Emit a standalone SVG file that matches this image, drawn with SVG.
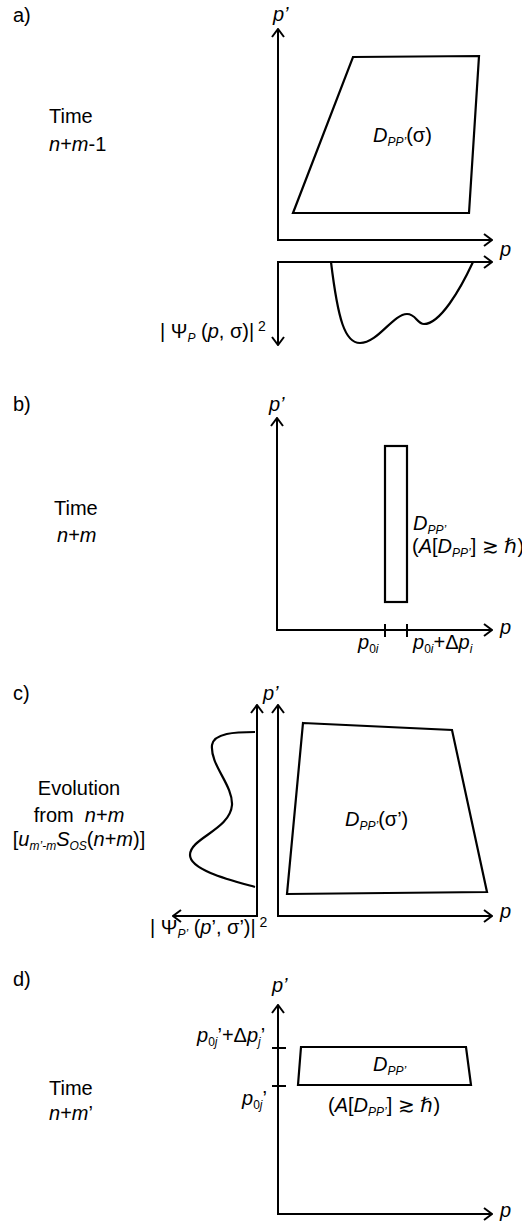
<svg xmlns="http://www.w3.org/2000/svg" width="522" height="1224" viewBox="0 0 522 1224">
<style>
text{font-family:"Liberation Sans",Arial,sans-serif;font-size:20px;fill:#000}
.i{font-style:italic}
.s{font-size:12px}
.sup{font-size:14px}
.ax{fill:none;stroke:#000;stroke-width:2;marker-start:url(#ah);marker-end:url(#ah)}
.sh{fill:none;stroke:#000;stroke-width:2.2;stroke-linejoin:miter}
.tk{stroke:#000;stroke-width:2}
</style>
<defs>
<marker id="ah" viewBox="0 0 10 14" refX="9" refY="7" markerWidth="10" markerHeight="14" markerUnits="userSpaceOnUse" orient="auto-start-reverse">
<path d="M1,1 L9,7 L1,13" fill="none" stroke="#000" stroke-width="2"/>
</marker>
</defs>
<rect width="522" height="1224" fill="#fff"/>

<g id="connectors">
<path class="ax" d="M278,29 L278,240 L492,240"/>
<path class="ax" d="M278,345 L278,262 L492,262"/>
<path class="ax" d="M277,418 L277,630 L492,630"/>
<path class="ax" d="M173,916 L257,916 L257,705"/>
<path class="ax" d="M278,705 L278,916 L492,916"/>
<path class="ax" d="M278,1005 L278,1214 L492,1214"/>
<line class="tk" x1="385" y1="624" x2="385" y2="637"/>
<line class="tk" x1="407" y1="624" x2="407" y2="637"/>
<line class="tk" x1="272" y1="1048" x2="286" y2="1048"/>
<line class="tk" x1="272" y1="1086" x2="286" y2="1086"/>
</g>

<g id="panel-a">
<text x="13" y="22">a)</text>
<text x="49" y="123">Time</text>
<text x="49" y="151"><tspan class="i">n</tspan>+<tspan class="i">m</tspan>-1</text>
<text class="i" x="273" y="21">p’</text>
<text class="i" x="500" y="256">p</text>
<polygon class="sh" points="293,213 353,57 479,56 469,213"/>
<text x="373" y="142"><tspan class="i">D</tspan><tspan class="i s" dy="4">PP’</tspan><tspan dy="-4">(σ)</tspan></text>
<path class="sh" d="M331,262 C338,320 345,343 360,343 C378,343 393,314 407,314 C416,314 417,324 424,324 C440,324 460,290 473,262"/>
<text x="160" y="338" style="white-space:pre">| Ψ<tspan class="i s" dy="4">P</tspan><tspan dy="-4"> (</tspan><tspan class="i">p</tspan>, σ)|<tspan class="sup" dy="-7"> 2</tspan></text>
</g>

<g id="panel-b">
<text x="13" y="411">b)</text>
<text x="54" y="515">Time</text>
<text x="57" y="542"><tspan class="i">n</tspan>+<tspan class="i">m</tspan></text>
<text class="i" x="269" y="411">p’</text>
<text class="i" x="500" y="634">p</text>
<rect class="sh" x="385" y="446" width="22" height="156"/>
<text x="413" y="530"><tspan class="i">D</tspan><tspan class="i s" dy="4">PP’</tspan></text>
<text x="412" y="553">(<tspan class="i">A</tspan>[<tspan class="i">D</tspan><tspan class="i s" dy="4">PP’</tspan><tspan dy="-4">] ≳ ℏ)</tspan></text>
<text x="358" y="649"><tspan class="i">p</tspan><tspan class="s" dy="4">0</tspan><tspan class="i s">i</tspan></text>
<text x="413" y="649"><tspan class="i">p</tspan><tspan class="s" dy="4">0</tspan><tspan class="i s">i</tspan><tspan dy="-4">+Δ</tspan><tspan class="i">p</tspan><tspan class="i s" dy="4">i</tspan></text>
</g>

<g id="panel-c">
<text x="13" y="700">c)</text>
<text x="79" y="795" text-anchor="middle">Evolution</text>
<text x="79" y="822" text-anchor="middle" style="white-space:pre">from  <tspan class="i">n</tspan>+<tspan class="i">m</tspan></text>
<text x="79" y="846" text-anchor="middle">[<tspan class="i">u</tspan><tspan class="i s" dy="4">m’-m</tspan><tspan class="i" dy="-4">S</tspan><tspan class="i s" dy="4">OS</tspan><tspan dy="-4">(</tspan><tspan class="i">n</tspan>+<tspan class="i">m</tspan>)]</text>
<text class="i" x="263" y="700">p’</text>
<text class="i" x="500" y="918">p</text>
<path class="sh" d="M255,732 C235,732 214,733 212,745 C210,765 233,785 232,805 C230,830 190,838 190,855 C190,870 230,880 255,887"/>
<polygon class="sh" points="303,723 452,730 487,892 287,894"/>
<text x="345" y="826"><tspan class="i">D</tspan><tspan class="i s" dy="4">PP’</tspan><tspan dy="-4">(σ’)</tspan></text>
<text x="150" y="934" style="white-space:pre">| Ψ<tspan class="i s" dy="4">P’</tspan><tspan dy="-4"> (</tspan><tspan class="i">p</tspan>’, σ’)|<tspan class="sup" dy="-7"> 2</tspan></text>
</g>

<g id="panel-d">
<text x="13" y="986">d)</text>
<text x="49" y="1095">Time</text>
<text x="49" y="1120"><tspan class="i">n</tspan>+<tspan class="i">m</tspan>’</text>
<text class="i" x="272" y="992">p’</text>
<text class="i" x="500" y="1217">p</text>
<polygon class="sh" points="301,1047 466,1047 471,1085 298,1085"/>
<text x="373" y="1071"><tspan class="i">D</tspan><tspan class="i s" dy="4">PP’</tspan></text>
<text x="328" y="1112">(<tspan class="i">A</tspan>[<tspan class="i">D</tspan><tspan class="i s" dy="4">PP’</tspan><tspan dy="-4">] ≳ ℏ)</tspan></text>
<text x="197" y="1042"><tspan class="i">p</tspan><tspan class="s" dy="4">0</tspan><tspan class="i s">j</tspan><tspan dy="-4">’+Δ</tspan><tspan class="i">p</tspan><tspan class="i s" dy="4">j</tspan><tspan dy="-4">’</tspan></text>
<text x="242" y="1105"><tspan class="i">p</tspan><tspan class="s" dy="4">0</tspan><tspan class="i s">j</tspan><tspan dy="-4">’</tspan></text>
</g>
</svg>
